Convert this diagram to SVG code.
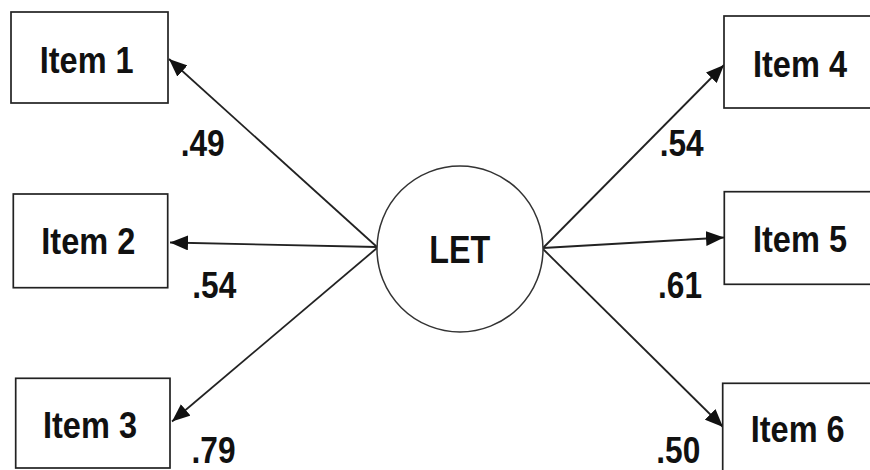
<svg xmlns="http://www.w3.org/2000/svg" width="870" height="470" viewBox="0 0 870 470">
<defs>
<style>
.box{fill:#fff;stroke:#222;stroke-width:1.7}
.lat{fill:#fff;stroke:#333;stroke-width:1.5}
.item{font-family:"Liberation Sans",Arial,sans-serif;font-weight:bold;font-size:37px;fill:#111}
.lab{font-family:"Liberation Sans",Arial,sans-serif;font-weight:bold;font-size:37px;fill:#111}
.latt{font-family:"Liberation Sans",Arial,sans-serif;font-weight:bold;font-size:38px;fill:#111}
.edge{stroke:#222;stroke-width:1.8;fill:none;marker-end:url(#ah)}
</style>
<marker id="ah" markerUnits="userSpaceOnUse" markerWidth="19" markerHeight="15" refX="18" refY="7.5" orient="auto">
<path d="M0,0 L18,7.5 L0,15 z" fill="#111"/>
</marker>
</defs>
<g id="edges">
<line class="edge" x1="377" y1="247" x2="169" y2="59"/>
<line class="edge" x1="377" y1="247" x2="170" y2="242.5"/>
<line class="edge" x1="377" y1="248" x2="172" y2="421.5"/>
<line class="edge" x1="543" y1="248" x2="724" y2="65"/>
<line class="edge" x1="543" y1="248" x2="724" y2="237.5"/>
<line class="edge" x1="543" y1="249" x2="723" y2="427"/>
</g>
<g id="LET">
<circle class="lat" cx="460" cy="249" r="83"/>
<text class="latt" x="429.3" y="263.3" textLength="61" lengthAdjust="spacingAndGlyphs">LET</text>
</g>
<g id="item1">
<rect class="box" x="11" y="12" width="157" height="91"/>
<text class="item" x="39.7" y="72.7" textLength="94" lengthAdjust="spacingAndGlyphs">Item 1</text>
</g>
<g id="item2">
<rect class="box" x="13.3" y="194" width="154.4" height="93.7"/>
<text class="item" x="41.3" y="254" textLength="94" lengthAdjust="spacingAndGlyphs">Item 2</text>
</g>
<g id="item3">
<rect class="box" x="15.7" y="378.3" width="154.3" height="89.7"/>
<text class="item" x="43" y="438.3" textLength="94" lengthAdjust="spacingAndGlyphs">Item 3</text>
</g>
<g id="item4">
<rect class="box" x="724" y="16" width="160" height="92"/>
<text class="item" x="753" y="77.3" textLength="94" lengthAdjust="spacingAndGlyphs">Item 4</text>
</g>
<g id="item5">
<rect class="box" x="724.3" y="191.7" width="160" height="92.6"/>
<text class="item" x="753" y="251.7" textLength="94" lengthAdjust="spacingAndGlyphs">Item 5</text>
</g>
<g id="item6">
<rect class="box" x="722.7" y="383.3" width="160" height="100"/>
<text class="item" x="750.7" y="442.3" textLength="94" lengthAdjust="spacingAndGlyphs">Item 6</text>
</g>
<g id="labels">
<text class="lab" x="180.7" y="156" textLength="44" lengthAdjust="spacingAndGlyphs">.49</text>
<text class="lab" x="659.7" y="156" textLength="44" lengthAdjust="spacingAndGlyphs">.54</text>
<text class="lab" x="192.3" y="297.7" textLength="44" lengthAdjust="spacingAndGlyphs">.54</text>
<text class="lab" x="658" y="297.7" textLength="44" lengthAdjust="spacingAndGlyphs">.61</text>
<text class="lab" x="191.5" y="463.3" textLength="44" lengthAdjust="spacingAndGlyphs">.79</text>
<text class="lab" x="656.3" y="463.3" textLength="44" lengthAdjust="spacingAndGlyphs">.50</text>
</g>
</svg>
